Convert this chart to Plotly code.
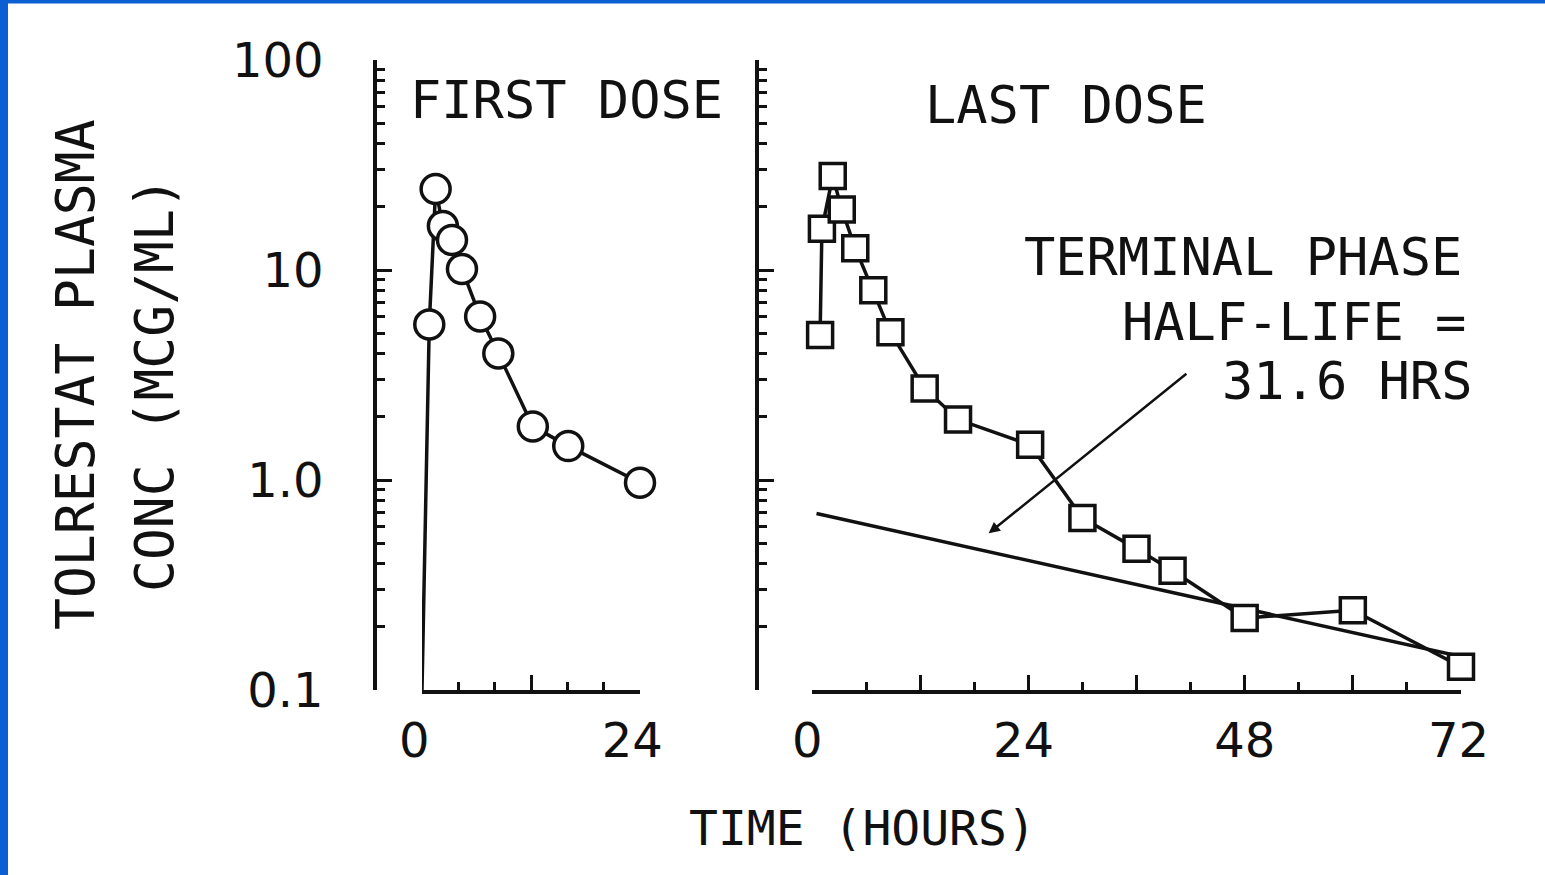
import math
import plotly.graph_objects as go

W, H = 1545, 875

# ---- first dose (circles) ----
first_time_h = [0.8, 1.5, 2.3, 3.3, 4.4, 6.4, 8.4, 12.2, 16.1, 24.0]
first_conc = [5.5, 24.3, 16.2, 13.9, 10.1, 6.0, 4.0, 1.8, 1.45, 0.97]
PREDOSE_TIME = 0.0
PREDOSE_FLOOR = 0.1  # pre-dose level plotted at the axis floor

# ---- last dose (squares) ----
last_time_h = [0.9, 1.1, 2.3, 3.3, 4.8, 6.8, 8.7, 12.5, 16.2, 24.2,
               30.0, 36.0, 40.0, 48.0, 60.0, 72.0]
last_conc = [4.9, 15.7, 28.0, 19.4, 12.7, 8.0, 5.05, 2.73, 1.94, 1.47,
             0.66, 0.47, 0.37, 0.22, 0.24, 0.129]

# ---- terminal phase fit ----
HALF_LIFE_H = 31.6
FIT_C0 = 0.70
fit_time_h = [0.5, 72.0]
fit_conc = [FIT_C0 * 2 ** (-t / HALF_LIFE_H) for t in fit_time_h]

# ---- axis ticks ----
y_major = [0.1, 1, 10, 100]
y_major_text = ["0.1", "1.0", "10", "100"]
y_minor = [m * d for d in (0.1, 1, 10) for m in range(2, 10)]
x1_major = [0, 12, 24]
x1_major_text = ["0 ", "", "24 "]
x1_minor = [4, 8, 16, 20]
x2_major = [0, 12, 24, 36, 48, 60, 72]
x2_major_text = ["0\u2009", "", "24\u2009", "", "48", "", "72\u200a"]
x2_minor = [6, 18, 30, 42, 54, 66]

INK = "#111111"
MONO = "DejaVu Sans Mono"
SANS = "DejaVu Sans"


def px(x):
    return x / W


def py(y):
    return 1 - y / H


fig = go.Figure()

# first dose curve, starting from the pre-dose floor
fig.add_trace(go.Scatter(
    x=[PREDOSE_TIME] + first_time_h, y=[PREDOSE_FLOOR] + first_conc,
    mode="lines", line=dict(color=INK, width=3.5),
    xaxis="x", yaxis="y", cliponaxis=False, showlegend=False, hoverinfo="skip"))
fig.add_trace(go.Scatter(
    x=first_time_h, y=first_conc, mode="markers",
    marker=dict(symbol="circle", size=29, color="white",
                line=dict(color=INK, width=3.5)),
    xaxis="x", yaxis="y", cliponaxis=False, showlegend=False))

# terminal phase line
fig.add_trace(go.Scatter(
    x=fit_time_h, y=fit_conc, mode="lines", line=dict(color=INK, width=3.5),
    xaxis="x2", yaxis="y2", cliponaxis=False, showlegend=False, hoverinfo="skip"))

# last dose curve
fig.add_trace(go.Scatter(
    x=last_time_h, y=last_conc, mode="lines+markers",
    line=dict(color=INK, width=3.5),
    marker=dict(symbol="square", size=25, color="white",
                line=dict(color=INK, width=3.5)),
    xaxis="x2", yaxis="y2", cliponaxis=False, showlegend=False))

y_domain = [py(690), py(60)]

common_axis = dict(
    showline=True, linewidth=3.5, linecolor=INK, showgrid=False, zeroline=False,
    ticks="inside", tickwidth=3, tickcolor=INK, ticklen=15, automargin=False,
)

yaxis_common = dict(
    common_axis, type="log", range=[-1, 2], domain=y_domain, anchor="free",
    tickmode="array", tickvals=y_major, ticktext=y_major_text,
    minor=dict(tickmode="array", tickvals=y_minor, ticks="inside",
               ticklen=8, tickwidth=3, tickcolor=INK, showgrid=False),
    tickfont=dict(family=SANS, size=48, color=INK),
)

fig.update_layout(
    template="none",
    width=W, height=H, margin=dict(l=0, r=0, t=0, b=0, pad=0),
    paper_bgcolor="white", plot_bgcolor="white",
    xaxis=dict(common_axis, domain=[px(422), px(640)], range=[0, 24],
               anchor="y", tickmode="array", tickvals=x1_major,
               ticktext=x1_major_text,
               minor=dict(tickmode="array", tickvals=x1_minor, ticks="inside",
                          ticklen=8, tickwidth=3, tickcolor=INK, showgrid=False),
               tickfont=dict(family=SANS, size=48, color=INK),
               ticklabelstandoff=6),
    xaxis2=dict(common_axis, domain=[px(812), px(1461)], range=[0, 72],
                anchor="y2", tickmode="array", tickvals=x2_major,
                ticktext=x2_major_text,
                minor=dict(tickmode="array", tickvals=x2_minor, ticks="inside",
                           ticklen=8, tickwidth=3, tickcolor=INK, showgrid=False),
                tickfont=dict(family=SANS, size=48, color=INK),
                ticklabelstandoff=6),
    yaxis=dict(yaxis_common, position=px(375), ticklabelstandoff=40),
    yaxis2=dict(yaxis_common, position=px(757), showticklabels=False),
)

# page frame edges
fig.add_shape(type="rect", xref="paper", yref="paper", x0=0, x1=px(8),
              y0=0, y1=1, fillcolor="#0b5fd3", line=dict(width=0), layer="above")
fig.add_shape(type="rect", xref="paper", yref="paper", x0=0, x1=1,
              y0=py(3.5), y1=1, fillcolor="#0b5fd3", line=dict(width=0), layer="above")


def label(text, x, y, size=52, xanchor="left", angle=0, family=MONO):
    fig.add_annotation(text=text, x=px(x), y=py(y), xref="paper", yref="paper",
                       xanchor=xanchor, yanchor="middle", showarrow=False,
                       textangle=angle,
                       font=dict(family=family, size=size, color=INK))


label("FIRST DOSE", 408, 100)
label("LAST DOSE", 923, 105)
label("TERMINAL PHASE", 1464, 257, xanchor="right")
label("HALF-LIFE =", 1468, 322, xanchor="right")
label("31.6 HRS", 1474, 381, xanchor="right")
label("TIME (HOURS)", 862, 828, size=48, xanchor="center")
label("TOLRESTAT PLASMA", 75, 375, size=53, xanchor="center", angle=-90)
label("CONC (MCG/ML)", 155, 385, size=53, xanchor="center", angle=-90)

# arrow pointing at the terminal phase line
fig.add_annotation(
    x=19.6, y=math.log10(0.557), xref="x2", yref="y2",
    ax=41.7, ay=math.log10(3.25), axref="x2", ayref="y2",
    text="", showarrow=True, arrowhead=2, arrowsize=0.9, arrowwidth=2.5,
    arrowcolor=INK)

fig.write_html("out.html")
